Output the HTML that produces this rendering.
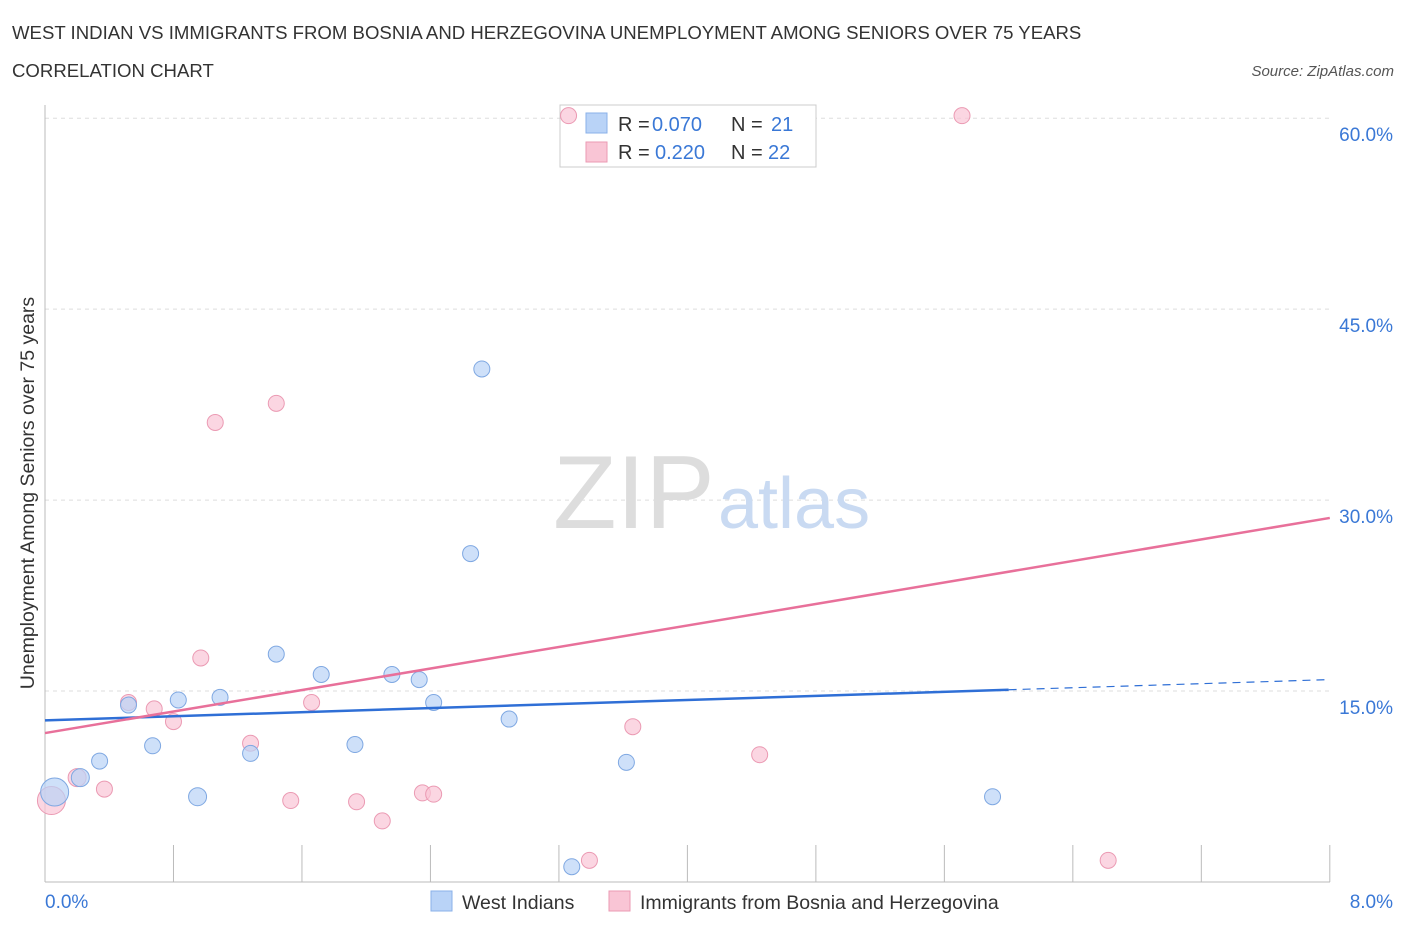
<!DOCTYPE html>
<html><head><meta charset="utf-8"><style>
body{margin:0;background:#fff;font-family:"Liberation Sans",sans-serif;}
svg text{font-family:"Liberation Sans",sans-serif;}
</style></head><body>
<svg width="1406" height="930" xmlns="http://www.w3.org/2000/svg">
<text x="12" y="39" font-size="18.6" fill="#333">WEST INDIAN VS IMMIGRANTS FROM BOSNIA AND HERZEGOVINA UNEMPLOYMENT AMONG SENIORS OVER 75 YEARS</text>
<text x="12" y="77" font-size="18.6" fill="#333">CORRELATION CHART</text>
<text x="1394" y="76" font-size="15" fill="#555" font-style="italic" text-anchor="end">Source: ZipAtlas.com</text>
<g id="grid"></g>
<text x="553" y="528" font-size="104" fill="#ddd" font-family="Liberation Serif">ZIP</text>
<text x="718" y="528" font-size="72" fill="#c9daf2">atlas</text>
<text transform="translate(34,493) rotate(-90)" font-size="19.5" fill="#333" text-anchor="middle">Unemployment Among Seniors over 75 years</text>
<g>
<rect x="560" y="105" width="256" height="62" fill="#fff" stroke="#ccc"/>
<rect x="586" y="113" width="21" height="20" fill="#b9d3f7" stroke="#8ab0e8"/>
<text y="131" font-size="20" fill="#333"><tspan x="618">R =</tspan><tspan x="652" fill="#3a78d6">0.070</tspan><tspan x="731">N =</tspan><tspan x="771" fill="#3a78d6">21</tspan></text>
<rect x="586" y="142" width="21" height="20" fill="#f9c5d5" stroke="#eb9ab3"/>
<text y="159" font-size="20" fill="#333"><tspan x="618">R =</tspan><tspan x="655" fill="#3a78d6">0.220</tspan><tspan x="731">N =</tspan><tspan x="768" fill="#3a78d6">22</tspan></text>
</g>
<g id="marks"></g>
<g>
<rect x="431" y="891" width="21" height="20" fill="#b9d3f7" stroke="#8ab0e8"/>
<text x="462" y="909" font-size="19.5" fill="#333">West Indians</text>
<rect x="609" y="891" width="21" height="20" fill="#f9c5d5" stroke="#eb9ab3"/>
<text x="640" y="909" font-size="19.5" fill="#333">Immigrants from Bosnia and Herzegovina</text>
</g>
</svg>
<script>
const blueX=[0.06,0.22,0.34,0.52,0.67,0.83,0.95,1.09,1.28,1.44,1.72,1.93,2.16,2.33,2.42,2.65,2.72,2.89,3.28,3.62,5.90];
const blueY=[7.07,8.2,9.5,13.9,10.7,14.3,6.7,14.5,10.1,17.9,16.3,10.8,16.3,15.9,14.1,25.8,40.3,12.8,1.2,9.4,6.7];
const blueR=[14,9,8,8,8,8,9,8,8,8,8,8,8,8,8,8,8,8,8,8,8];
const pinkX=[0.04,0.2,0.37,0.52,0.68,0.80,0.97,1.06,1.28,1.44,1.53,1.66,1.94,2.10,2.35,2.42,3.26,3.39,3.66,4.45,5.71,6.62];
const pinkY=[6.4,8.2,7.3,14.1,13.6,12.6,17.6,36.1,10.9,37.6,6.4,14.1,6.3,4.8,7.0,6.9,60.2,1.7,12.2,10.0,60.2,1.7];
const pinkR=[14,9,8,8,8,8,8,8,8,8,8,8,8,8,8,8,8,8,8,8,8,8];
const blueLine=[[0,12.7],[6.0,15.1],[8.0,15.9]];
const pinkLine=[[0,11.7],[8.0,28.6]];
const yTicks=[15,30,45,60];
const xTickLabels=["0.0%","8.0%"];
const NS="http://www.w3.org/2000/svg";
const sx=v=>45+v*160.6, sy=v=>882-v*12.73;
function mk(tag,attrs,parent){const e=document.createElementNS(NS,tag);for(const k in attrs)e.setAttribute(k,attrs[k]);parent.appendChild(e);return e;}
const grid=document.getElementById('grid'), marks=document.getElementById('marks');
yTicks.forEach(t=>{
 const l=mk('line',{x1:45,x2:1330,y1:sy(t),y2:sy(t),stroke:'#ddd','stroke-dasharray':'4,4'},grid);
 
 
 const tx=mk('text',{x:1393,y:sy(t)+23,'font-size':19,fill:'#3a78d6','text-anchor':'end'},grid);
 tx.textContent=t.toFixed(1)+'%';
 
 
});
const ax=mk('line',{x1:45,x2:45,y1:105,y2:882,stroke:'#bbb'},grid);


const bx=mk('line',{x1:45,x2:1330,y1:882,y2:882,stroke:'#bbb'},grid);


for(let i=1;i<=10;i++){const t=mk('line',{x1:sx(i*0.8),x2:sx(i*0.8),y1:845,y2:882,stroke:'#bbb'},grid);
 
 }
[[0,'start',45],[1,'end',1393]].forEach(([i,a,x])=>{const t=mk('text',{x:x,y:908,'font-size':19,fill:'#3a78d6','text-anchor':a},grid);t.textContent=xTickLabels[i];
 
 });
pinkX.forEach((x,i)=>{const c=mk('circle',{cx:sx(x),cy:sy(pinkY[i]),r:pinkR[i],fill:'#f9c5d5','fill-opacity':0.7,stroke:'#eb9ab3'},marks);
 
 });
blueX.forEach((x,i)=>{const c=mk('circle',{cx:sx(x),cy:sy(blueY[i]),r:blueR[i],fill:'#b9d3f7','fill-opacity':0.7,stroke:'#7fa8e2'},marks);
 
 });
const b1=mk('line',{x1:sx(blueLine[0][0]),y1:sy(blueLine[0][1]),x2:sx(blueLine[1][0]),y2:sy(blueLine[1][1]),stroke:'#2f6fd6','stroke-width':2.5},marks);


const b2=mk('line',{x1:sx(blueLine[1][0]),y1:sy(blueLine[1][1]),x2:sx(blueLine[2][0]),y2:sy(blueLine[2][1]),stroke:'#2f6fd6','stroke-width':1.2,'stroke-dasharray':'8,6'},marks);


const p1=mk('line',{x1:sx(pinkLine[0][0]),y1:sy(pinkLine[0][1]),x2:sx(pinkLine[1][0]),y2:sy(pinkLine[1][1]),stroke:'#e8709a','stroke-width':2.5},marks);


</script>
</body></html>
